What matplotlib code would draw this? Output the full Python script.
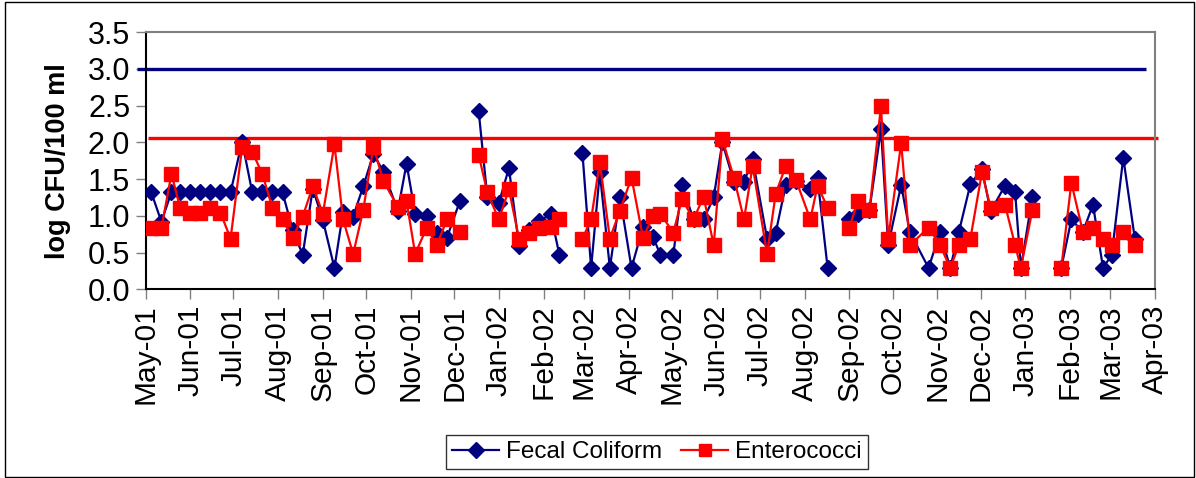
import numpy as np
import matplotlib
matplotlib.use("Agg")
import matplotlib.pyplot as plt
import matplotlib.dates as mdates
from matplotlib.patches import Rectangle
import pandas as pd

plt.rcParams['font.family'] = ['Liberation Sans', 'DejaVu Sans']

dates = [
    "2001-05-05", "2001-05-12", "2001-05-19", "2001-05-25", "2001-06-01", "2001-06-08",
    "2001-06-15", "2001-06-22", "2001-06-29", "2001-07-07", "2001-07-14", "2001-07-21",
    "2001-07-28", "2001-08-04", "2001-08-11", "2001-08-18", "2001-08-25", "2001-09-01",
    "2001-09-09", "2001-09-15", "2001-09-22", "2001-09-29", "2001-10-06", "2001-10-13",
    "2001-10-23", "2001-10-29", "2001-11-04", "2001-11-12", "2001-11-19", "2001-11-26",
    "2001-12-05", "2001-12-11", "2001-12-18", "2001-12-24", "2002-01-01", "2002-01-08",
    "2002-01-15", "2002-01-22", "2002-01-29", "2002-02-06", "2002-02-12", "2002-02-20",
    "2002-02-28", "2002-03-06", "2002-03-12", "2002-03-19", "2002-03-26", "2002-04-03",
    "2002-04-11", "2002-04-18", "2002-04-23", "2002-05-02", "2002-05-08", "2002-05-16",
    "2002-05-23", "2002-05-30", "2002-06-05", "2002-06-13", "2002-06-20", "2002-06-26",
    "2002-07-06", "2002-07-12", "2002-07-19", "2002-07-26", "2002-08-05", "2002-08-10",
    "2002-08-17", "2002-08-24", "2002-09-01", "2002-09-07", "2002-09-15", "2002-09-23",
    "2002-09-28", "2002-10-07", "2002-10-13", "2002-10-26", "2002-11-03", "2002-11-10",
    "2002-11-16", "2002-11-24", "2002-12-02", "2002-12-08", "2002-12-18", "2002-12-25",
    "2002-12-29", "2003-01-06", "2003-01-13", "2003-01-20", "2003-01-26", "2003-02-02",
    "2003-02-10", "2003-02-17", "2003-02-24", "2003-03-02", "2003-03-10", "2003-03-18",
]

nan = np.nan
fecal_coliform = [
    1.32, 0.92, 1.32, 1.32, 1.32, 1.32,
    1.32, 1.32, 1.32, 2.01, 1.32, 1.32,
    1.32, 1.32, 0.81, 0.47, 1.37, 0.94,
    0.29, 1.05, 0.99, 1.40, 1.84, 1.60,
    1.07, 1.71, 1.03, 1.00, 0.77, 0.70,
    1.20, nan, 2.43, 1.26, 1.17, 1.65,
    0.59, 0.80, 0.93, 1.02, 0.47, nan,
    1.85, 0.29, 1.59, 0.29, 1.26, 0.29,
    0.85, 0.71, 0.47, 0.47, 1.42, 0.95,
    0.95, 1.25, 2.00, 1.46, 1.46, 1.77,
    0.69, 0.77, 1.42, 1.47, 1.37, 1.51,
    0.29, nan, 0.96, 1.03, 1.08, 2.18,
    0.60, 1.42, 0.78, 0.29, 0.78, 0.29,
    0.78, 1.43, 1.64, 1.06, 1.41, 1.32,
    0.29, 1.26, nan, nan, 0.29, 0.95,
    0.78, 1.15, 0.29, 0.47, 1.79, 0.69,
]

enterococci = [
    0.83, 0.83, 1.57, 1.11, 1.04, 1.04,
    1.11, 1.04, 0.69, 1.93, 1.87, 1.57,
    1.11, 0.95, 0.70, 0.99, 1.40, 1.03,
    1.97, 0.95, 0.48, 1.08, 1.94, 1.47,
    1.12, 1.20, 0.48, 0.84, 0.60, 0.95,
    0.78, nan, 1.83, 1.32, 0.95, 1.36,
    0.69, 0.77, 0.84, 0.85, 0.95, nan,
    0.69, 0.95, 1.73, 0.69, 1.07, 1.52,
    0.70, 1.00, 1.03, 0.77, 1.23, 0.95,
    1.26, 0.60, 2.04, 1.52, 0.95, 1.68,
    0.48, 1.30, 1.68, 1.49, 0.95, 1.41,
    1.11, nan, 0.84, 1.20, 1.08, 2.49,
    0.69, 1.99, 0.60, 0.84, 0.60, 0.29,
    0.60, 0.69, 1.59, 1.11, 1.15, 0.60,
    0.29, 1.08, nan, nan, 0.29, 1.45,
    0.78, 0.84, 0.69, 0.60, 0.78, 0.60,
]

# reference standards (log CFU/100 ml) and their drawn date spans
fc_standard = 3.0
fc_standard_span = ["2001-04-25", "2003-03-26"]
ent_standard = 2.06
ent_standard_span = ["2001-05-03", "2003-04-03"]

y_ticks = [0.0, 0.5, 1.0, 1.5, 2.0, 2.5, 3.0, 3.5]

x = pd.to_datetime(dates)

fig = plt.figure(figsize=(11.96, 4.78), dpi=100)
ax = fig.add_axes([145.5 / 1196, 1 - 289.3 / 478, (1155 - 145.5) / 1196, (289.3 - 32) / 478])

navy = '#000080'
red = '#FF0000'

ax.plot(pd.to_datetime(fc_standard_span), [fc_standard] * 2, color=navy, lw=2.4,
        clip_on=False, solid_capstyle='butt', zorder=2)
ax.plot(pd.to_datetime(ent_standard_span), [ent_standard] * 2, color=red, lw=2.4,
        clip_on=False, solid_capstyle='butt', zorder=2)

ax.plot(x, fecal_coliform, color=navy, lw=1.6, marker='D', markersize=8.5,
        markeredgecolor=navy, markerfacecolor=navy, label='Fecal Coliform', zorder=3)
ax.plot(x, enterococci, color=red, lw=1.6, marker='s', markersize=9.5,
        markeredgecolor=red, markerfacecolor=red, label='Enterococci', zorder=4)

ax.set_xlim(pd.Timestamp("2001-05-01"), pd.Timestamp("2003-04-01"))
ax.set_ylim(0, 3.5)
ax.set_yticks(y_ticks)
ax.yaxis.set_major_formatter(matplotlib.ticker.FormatStrFormatter('%.1f'))
ax.xaxis.set_major_locator(mdates.MonthLocator())
ax.xaxis.set_major_formatter(mdates.DateFormatter('%b-%y'))
ax.tick_params(axis='x', labelrotation=90, labelsize=21.5, length=7, width=1,
               direction='out', color='#808080', pad=4)
ax.tick_params(axis='y', labelsize=22, length=7, width=1, direction='out',
               color='#808080', pad=4)

for s in ['left', 'bottom']:
    ax.spines[s].set_color('black')
    ax.spines[s].set_linewidth(1.5)
for s in ['top', 'right']:
    ax.spines[s].set_color('#808080')
    ax.spines[s].set_linewidth(1.5)

ax.set_ylabel('log CFU/100 ml', fontsize=19.5, fontweight='bold', labelpad=12)

leg = fig.legend(loc='center', bbox_to_anchor=(657 / 1196, 1 - 452 / 478), ncol=2,
                 fontsize=17.5, frameon=True, fancybox=False, edgecolor='black',
                 handlelength=1.9, handletextpad=0.3, columnspacing=0.8,
                 borderpad=0.25, markerscale=0.9)
leg.get_frame().set_linewidth(1.0)

fig.patches.append(Rectangle((4.5 / 1196, 1.5 / 478), 1189 / 1196, 475 / 478,
                             transform=fig.transFigure, fill=False,
                             edgecolor='black', lw=1.0))

fig.savefig('out.png', dpi=100)
